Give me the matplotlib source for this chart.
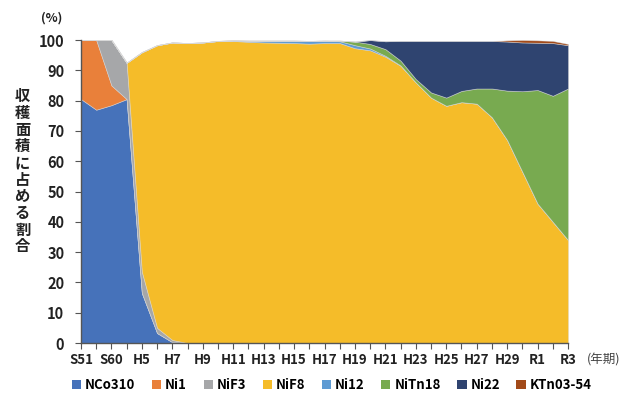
import matplotlib
matplotlib.use("Agg")
import matplotlib.pyplot as plt
from matplotlib.patches import Patch

plt.rcParams['font.family'] = ['Noto Sans CJK JP', 'DejaVu Sans']

# 年期（S51, S55, S60, H2, H5〜H30, R1〜R3）
years = ['S51', 'S55', 'S60', 'H2'] + [f'H{n}' for n in range(5, 31)] + ['R1', 'R2', 'R3']

# 品種別の収穫面積割合（%）
nco310 = [80.5, 77.0, 78.5, 80.5, 16.5, 3.3, 0.3] + [0] * 26
ni1 = [19.5, 23.0, 6.5] + [0] * 30
nif3 = [0, 0, 15.0, 12.0, 7.0, 1.7, 0.7] + [0] * 26
nif8 = [0, 0, 0, 0, 72.5, 93.3, 98.2, 99.0, 99.2, 99.7, 99.7, 99.4, 99.2, 99.1,
        99.0, 98.8, 99.0, 99.0, 97.3, 96.6, 94.5, 91.5, 86.0, 81.0, 78.3, 79.5,
        79.0, 74.5, 67.0, 56.5, 46.0, 40.0, 34.0]
ni12 = [0] * 10 + [0.2, 0.4, 0.6, 0.7, 0.8, 0.9, 0.8, 0.6, 1.0, 0.6, 0.3, 0.1] + [0] * 11
nitn18 = [0] * 17 + [0.2, 1.2, 1.5, 2.2, 1.6, 1.1, 1.7, 2.7, 3.7, 5.0, 9.5, 16.3,
                     26.6, 37.5, 41.6, 50.0]
ni22 = [0] * 18 + [0, 1.3, 2.6, 6.5, 12.6, 17.0, 18.7, 16.5, 15.7, 15.7, 16.2,
                   16.1, 15.6, 17.4, 14.3]
ktn03_54 = [0] * 27 + [0, 0.4, 0.8, 0.8, 0.7, 0.4]

names = ['NCo310', 'Ni1', 'NiF3', 'NiF8', 'Ni12', 'NiTn18', 'Ni22', 'KTn03-54']
series = [nco310, ni1, nif3, nif8, ni12, nitn18, ni22, ktn03_54]
colors = ['#4672BA', '#E9803A', '#A6A7A9', '#F5BC29', '#5E9BD3', '#78AA50',
          '#2F4470', '#A24A19']

fig = plt.figure(figsize=(6.26, 3.94), dpi=100)
ax = fig.add_axes([0.1294, 0.1294, 0.7780, 0.7690])

x = list(range(len(years)))
ax.stackplot(x, *series, colors=colors, edgecolor=(0.85, 0.85, 0.85, 0.6),
             linewidth=0.5)

ax.set_xlim(0, len(years) - 1)
ax.set_ylim(0, 100)
ax.set_yticks(range(0, 101, 10))
ax.set_xticks(x)
ax.set_xticklabels([y if i % 2 == 0 else '' for i, y in enumerate(years)])
for lab in ax.get_xticklabels() + ax.get_yticklabels():
    lab.set_fontweight('bold')
    lab.set_color('#222222')
ax.tick_params(axis='y', labelsize=10.5, length=4, color='#555555', pad=8)
ax.tick_params(axis='x', labelsize=9.5, length=4, color='#555555', pad=3)

for side in ['top', 'right']:
    ax.spines[side].set_visible(False)
for side in ['left', 'bottom']:
    ax.spines[side].set_color('#555555')
    ax.spines[side].set_linewidth(1.0)

fig.text(0.082, 0.955, '(%)', fontsize=9, fontweight='bold', color='#222222',
         ha='center', va='center')
fig.text(0.965, 0.087, '(年期)', fontsize=9, color='#444444', ha='center',
         va='center')
fig.text(0.036, 0.565, '\n'.join('収穫面積に占める割合'), fontsize=11,
         fontweight='bold', color='#222222', ha='center', va='center',
         linespacing=1.05)

handles = [Patch(facecolor=c, edgecolor='none') for c in colors]
fig.legend(handles, names, loc='center', bbox_to_anchor=(0.53, 0.022), ncol=8,
           frameon=False, prop={'size': 9.5, 'weight': 'bold'},
           handlelength=0.7, handleheight=0.7, handletextpad=0.3,
           columnspacing=1.25)

fig.savefig('out.png', dpi=100)
